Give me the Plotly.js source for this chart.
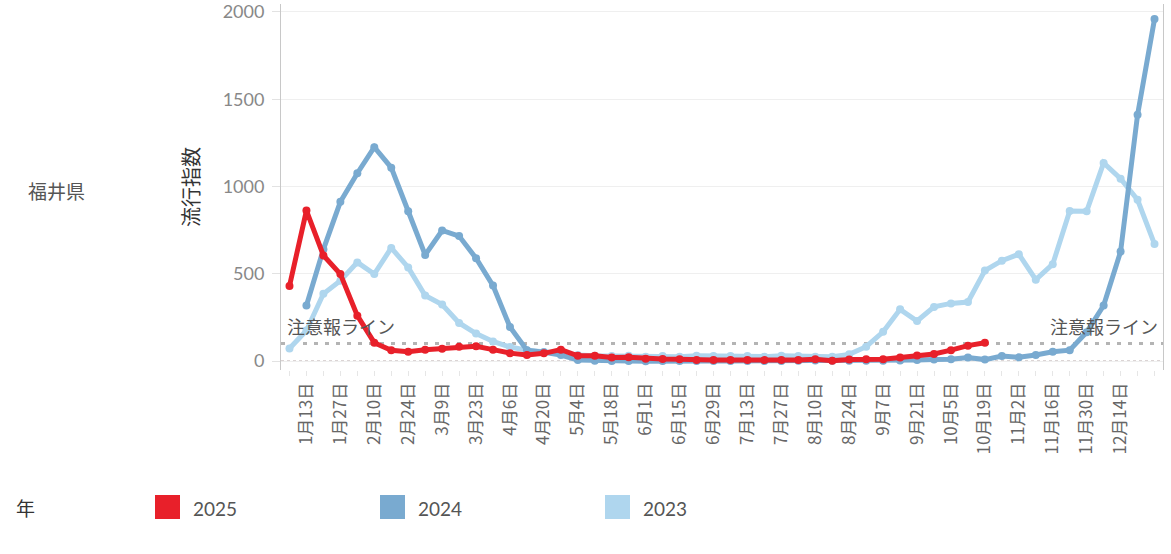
<!DOCTYPE html>
<html>
<head>
<meta charset="utf-8">
<script src="https://cdn.plot.ly/plotly-3.0.1.min.js"></script>
<style>html,body{margin:0;padding:0;background:#fff;}#chart{width:1171px;height:554px;}</style>
</head>
<body>
<div id="chart"></div>
<script>
// ---- data ----
var weeks = ["1月6日","1月13日","1月20日","1月27日","2月3日","2月10日","2月17日","2月24日","3月2日","3月9日","3月16日","3月23日","3月30日","4月6日","4月13日","4月20日","4月27日","5月4日","5月11日","5月18日","5月25日","6月1日","6月8日","6月15日","6月22日","6月29日","7月6日","7月13日","7月20日","7月27日","8月3日","8月10日","8月17日","8月24日","8月31日","9月7日","9月14日","9月21日","9月28日","10月5日","10月12日","10月19日","10月26日","11月2日","11月9日","11月16日","11月23日","11月30日","12月7日","12月14日","12月21日","12月28日"];
var tickLabels = ["1月13日","1月27日","2月10日","2月24日","3月9日","3月23日","4月6日","4月20日","5月4日","5月18日","6月1日","6月15日","6月29日","7月13日","7月27日","8月10日","8月24日","9月7日","9月21日","10月5日","10月19日","11月2日","11月16日","11月30日","12月14日"];
var yTicks = [0, 500, 1000, 1500, 2000];

var seriesNames = ["2025", "2024", "2023"];
var seriesColors = ["#e8202a", "#79aad0", "#afd6ee"];

var v2025 = [430,862,605,498,260,105,62,53,64,70,82,84,65,45,34,44,65,30,30,20,22,13,11,10,6,6,6,5,5,5,5,10,2,8,10,10,20,32,40,62,88,105,
  null,null,null,null,null,null,null,null,null,null];
var v2024 = [null,318,640,912,1076,1225,1108,858,608,748,716,589,432,195,62,50,34,6,2,0,0,-2,0,0,0,0,0,0,0,0,2,3,2,2,2,2,3,5,8,10,20,8,
  28,21,34,53,62,165,318,627,1411,1960];
var v2023 = [72,175,385,460,565,498,648,536,375,324,218,157,112,80,62,52,45,35,30,28,30,25,28,25,30,28,28,28,25,30,28,25,25,38,82,167,296,229,310,330,338,518,
  575,612,466,555,860,858,1135,1045,924,670];

var alertLevel = 100;
var alertText = "注意報ライン";
var prefName = "福井県";
var yTitle = "流行指数";
var legendTitle = "年";

// ---- build ----
var jp = "Noto Sans CJK JP, Noto Sans, sans-serif";
var num = "Lato, Noto Sans, sans-serif";
var valuesByYear = {"2025": v2025, "2024": v2024, "2023": v2023};

var traces = [];
for (var i = seriesNames.length - 1; i >= 0; i--) {
  traces.push({
    type: "scatter", mode: "lines+markers",
    x: weeks, y: valuesByYear[seriesNames[i]], name: seriesNames[i],
    line: {color: seriesColors[i], width: 5},
    marker: {color: seriesColors[i], size: 8},
    connectgaps: false, showlegend: false, hoverinfo: "x+y+name"
  });
}

var tickText = weeks.map(function (w) { return tickLabels.indexOf(w) >= 0 ? w : ""; });

var L = 281, W = 882, T = 4, B = 184, H = 554 - T - B;
function px(x) { return (x - L) / W; }
function py(y) { return (T + H - y) / H; }

var shapes = [
  {type: "line", xref: "paper", yref: "y", x0: 0, x1: 1, y0: 0, y1: 0,
   line: {color: "#cfc6c6", width: 1.5, dash: "3px,3px"}, layer: "below"},
  {type: "line", xref: "paper", yref: "y", x0: 0, x1: 1, y0: alertLevel, y1: alertLevel,
   line: {color: "#b4b4b4", width: 3, dash: "4px,7px"}, layer: "below"}
];
var legendX = [155, 380, 605];
var annotations = [
  {xref: "x", yref: "y", x: weeks[0], y: alertLevel, xanchor: "left", yanchor: "bottom",
   xshift: -4, yshift: 3, text: alertText, showarrow: false, font: {family: jp, size: 18, color: "#555"}},
  {xref: "x", yref: "y", x: weeks[weeks.length - 1], y: alertLevel, xanchor: "right", yanchor: "bottom",
   xshift: 5, yshift: 3, text: alertText, showarrow: false, font: {family: jp, size: 18, color: "#555"}},
  {xref: "paper", yref: "paper", x: px(190), y: py(187), xanchor: "center", yanchor: "middle",
   text: yTitle, textangle: -90, showarrow: false, font: {family: jp, size: 20, color: "#333"}},
  {xref: "paper", yref: "paper", x: px(56), y: py(190), xanchor: "center", yanchor: "middle",
   text: prefName, showarrow: false, font: {family: jp, size: 19, color: "#555"}},
  {xref: "paper", yref: "paper", x: px(14), y: py(507), xanchor: "left", yanchor: "middle",
   text: legendTitle, showarrow: false, font: {family: jp, size: 19, color: "#333"}}
];
for (var k = 0; k < seriesNames.length; k++) {
  shapes.push({type: "rect", xref: "paper", yref: "paper",
    x0: px(legendX[k]), x1: px(legendX[k] + 25), y0: py(519), y1: py(495),
    fillcolor: seriesColors[k], line: {width: 0}});
  annotations.push({xref: "paper", yref: "paper", x: px(legendX[k] + 36), y: py(508),
    xanchor: "left", yanchor: "middle", text: seriesNames[k], showarrow: false,
    font: {family: num, size: 19, color: "#555"}});
}

var layout = {
  width: 1171, height: 554,
  margin: {l: L, r: 8, t: T, b: B},
  paper_bgcolor: "#fff", plot_bgcolor: "#fff",
  showlegend: false,
  xaxis: {
    type: "category", categoryorder: "array", categoryarray: weeks,
    range: [-0.5, weeks.length - 0.5], autorange: false,
    tickmode: "array", tickvals: weeks, ticktext: tickText,
    tickangle: -90, tickfont: {family: jp, size: 17, color: "#666"},
    ticks: "outside", ticklen: 5, tickcolor: "#e6e6e6",
    showgrid: false, zeroline: false, showline: false, fixedrange: true
  },
  yaxis: {
    range: [-51.6, 2045.8], autorange: false, tickmode: "array", tickvals: yTicks,
    tickfont: {family: num, size: 18, color: "#888"}, ticklabeloverflow: "allow",
    ticks: "outside", ticklen: 8, tickcolor: "#e2e2e2", ticklabelstandoff: 4,
    showgrid: true, gridcolor: "#efefef", gridwidth: 1, zeroline: false,
    showline: true, linecolor: "#c8c8c8", linewidth: 1, mirror: true, fixedrange: true
  },
  shapes: shapes,
  annotations: annotations
};

Plotly.newPlot("chart", traces, layout, {displayModeBar: false, staticPlot: true});
</script>
</body>
</html>
